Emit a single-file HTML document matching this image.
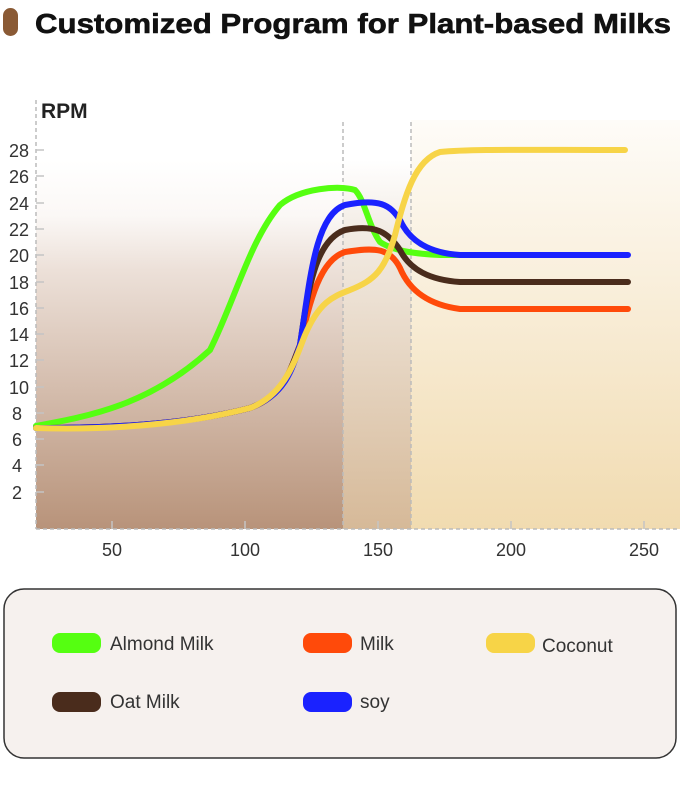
<!DOCTYPE html>
<html><head><meta charset="utf-8"><style>
body{margin:0;background:#fff;}
svg{display:block;font-family:"Liberation Sans",sans-serif;}
</style></head><body>
<svg width="680" height="795" viewBox="0 0 680 795">
<defs>
<linearGradient id="gl" x1="0" y1="0" x2="0" y2="1"><stop offset="0" stop-color="#fff"/><stop offset="0.15" stop-color="#fbf8f6"/><stop offset="0.3" stop-color="#ece0d8"/><stop offset="1" stop-color="#b8937a"/></linearGradient>
<linearGradient id="gm" x1="0" y1="0" x2="0" y2="1"><stop offset="0" stop-color="#fff"/><stop offset="0.2" stop-color="#f2ebe3"/><stop offset="1" stop-color="#d6b998"/></linearGradient>
<linearGradient id="gr" x1="0" y1="0" x2="0" y2="1"><stop offset="0" stop-color="#fefcf8"/><stop offset="1" stop-color="#f1dbb0"/></linearGradient>
</defs>
<rect x="3" y="8" width="15" height="28" rx="7.5" fill="#8a5a35"/>
<text x="35" y="33" font-size="28" font-weight="bold" fill="#111" stroke="#111" stroke-width="0.6" textLength="636" lengthAdjust="spacingAndGlyphs">Customized Program for Plant-based Milks</text>
<rect x="36" y="160" width="307" height="369" fill="url(#gl)"/>
<rect x="343" y="160" width="68" height="369" fill="url(#gm)"/>
<rect x="411" y="120" width="269" height="409" fill="url(#gr)"/>
<g stroke="#bbb" stroke-width="1.5" stroke-dasharray="4,3" fill="none">
<line x1="36" y1="100" x2="36" y2="529"/>
<line x1="36" y1="529" x2="680" y2="529"/>
<line x1="343" y1="122" x2="343" y2="529"/>
<line x1="411" y1="122" x2="411" y2="529"/>
</g>
<g stroke="#c4c4c4" stroke-width="1.5">
<line x1="36" y1="150" x2="44" y2="150"/><line x1="36" y1="176" x2="44" y2="176"/><line x1="36" y1="203" x2="44" y2="203"/><line x1="36" y1="229" x2="44" y2="229"/><line x1="36" y1="255" x2="44" y2="255"/><line x1="36" y1="282" x2="44" y2="282"/><line x1="36" y1="308" x2="44" y2="308"/><line x1="36" y1="334" x2="44" y2="334"/><line x1="36" y1="360" x2="44" y2="360"/><line x1="36" y1="387" x2="44" y2="387"/><line x1="36" y1="413" x2="44" y2="413"/><line x1="36" y1="439" x2="44" y2="439"/><line x1="36" y1="465" x2="44" y2="465"/><line x1="36" y1="492" x2="44" y2="492"/>
<line x1="112" y1="521" x2="112" y2="529"/><line x1="245" y1="521" x2="245" y2="529"/><line x1="378" y1="521" x2="378" y2="529"/><line x1="511" y1="521" x2="511" y2="529"/><line x1="644" y1="521" x2="644" y2="529"/>
</g>
<text x="41" y="118" font-size="21" font-weight="bold" fill="#222">RPM</text>
<g font-size="18" fill="#333" text-anchor="end">
<text x="29" y="157">28</text><text x="29" y="183">26</text><text x="29" y="210">24</text><text x="29" y="236">22</text><text x="29" y="262">20</text><text x="29" y="289">18</text><text x="29" y="315">16</text><text x="29" y="341">14</text><text x="29" y="367">12</text><text x="29" y="394">10</text><text x="22" y="420">8</text><text x="22" y="446">6</text><text x="22" y="472">4</text><text x="22" y="499">2</text>
</g>
<g font-size="18" fill="#333" text-anchor="middle">
<text x="112" y="556">50</text><text x="245" y="556">100</text><text x="378" y="556">150</text><text x="511" y="556">200</text><text x="644" y="556">250</text>
</g>
<g fill="none" stroke-width="6" stroke-linecap="round">
<path stroke="#55ff11" d="M36,426 C90,416 150,405 210,350 C235,300 250,240 280,205 C300,188 340,185 355,190 C365,200 368,225 380,242 C395,252 420,254 440,255 L626,255"/>
<path stroke="#ff4a0a" d="M36,428 C100,428 180,426 250,408 C285,395 290,370 300,345 C310,300 320,260 345,252 C375,247 390,248 400,268 C410,292 430,305 460,309 L628,309"/>
<path stroke="#4a2c1c" d="M36,428 C100,428 180,426 250,408 C285,395 290,370 300,345 C308,290 315,240 345,230 C375,224 388,232 400,250 C410,270 430,280 460,282 L628,282"/>
<path stroke="#1a22ff" d="M36,428 C100,428 180,426 250,408 C285,395 292,370 300,345 C310,280 315,215 345,205 C380,198 390,205 400,220 C410,242 430,253 460,255 L628,255"/>
<path stroke="#f7d447" d="M36,428 C100,430 180,426 250,408 C285,395 295,360 305,335 C320,300 335,296 350,290 C375,280 385,270 395,235 C405,195 415,160 440,152 C470,149 520,150 625,150"/>
</g>
<rect x="4" y="589" width="672" height="169" rx="20" fill="#f6f1ee" stroke="#333" stroke-width="1.5"/>
<rect x="52" y="633" width="49" height="20" rx="8" fill="#55ff11"/>
<rect x="303" y="633" width="49" height="20" rx="8" fill="#ff4a0a"/>
<rect x="486" y="633" width="49" height="20" rx="8" fill="#f7d447"/>
<rect x="52" y="692" width="49" height="20" rx="8" fill="#4a2c1c"/>
<rect x="303" y="692" width="49" height="20" rx="8" fill="#1a22ff"/>
<g font-size="19" fill="#333">
<text x="110" y="650">Almond Milk</text><text x="360" y="650">Milk</text><text x="542" y="652">Coconut</text>
<text x="110" y="708">Oat Milk</text><text x="360" y="708">soy</text>
</g>
</svg>
</body></html>
